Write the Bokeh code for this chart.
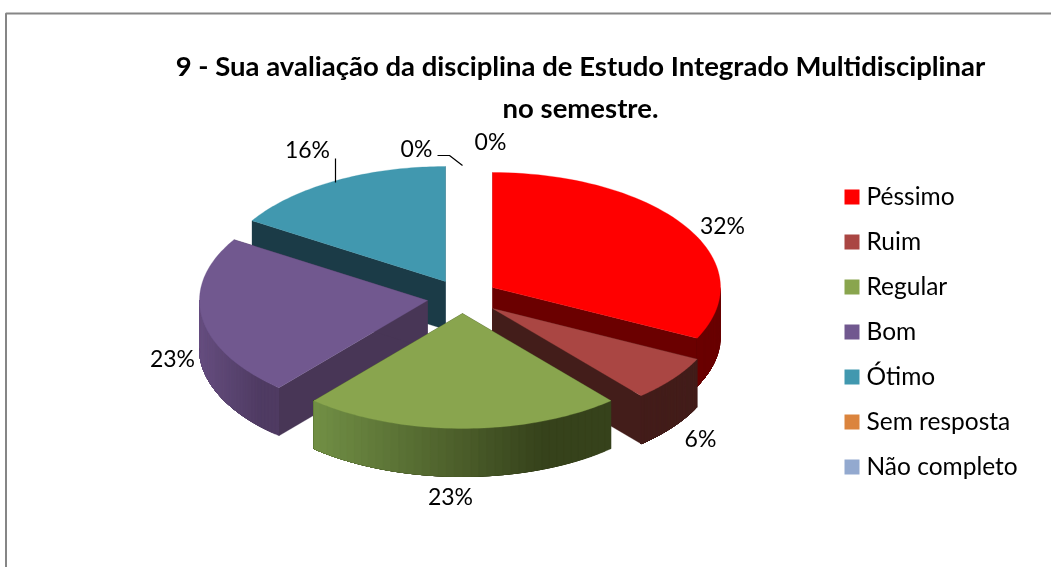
import math
from bokeh.plotting import figure
from bokeh.models import Range1d, ColumnDataSource
from bokeh.core.properties import value
from bokeh.embed import file_html
from bokeh.resources import INLINE

title_lines = ["9 - Sua avaliação da disciplina de Estudo Integrado Multidisciplinar", "no semestre."]
categories = ["Péssimo", "Ruim", "Regular", "Bom", "Ótimo", "Sem resposta", "Não completo"]
counts = [10, 2, 7, 7, 5, 0, 0]
colors = ["#FF0000", "#AA4643", "#89A54E", "#71588F", "#4198AF", "#DB843D", "#93A9CF"]

# style / geometry
W, H = 1051, 567
RX, RY, DEPTH = 228, 115, 48
apex = [(492, 287), (492, 308), (462, 313), (427, 300), (445, 281)]
cut_color = ["#6B0000", "#431D1A", "#37421C", "#483656", "#1B3B47"]
side_left = ["#6B0000", "#431D1A", "#718F45", "#664E80", "#1B3B47"]
side_right = ["#6B0000", "#431D1A", "#36421B", "#4F3B62", "#1B3B47"]
draw_order = [4, 0, 1, 3, 2]
label_pos = [(722, 224), (700, 437), (450, 495), (172, 357), (307, 148), (416, 147), (490, 140)]
FONT = "Lato"

total = sum(counts)
edges = [0.0]
for c in counts:
    edges.append(edges[-1] + 360.0 * c / total)


def pt(i, deg, dz=0.0):
    a = math.radians(deg)
    return apex[i][0] + RX * math.sin(a), apex[i][1] - RY * math.cos(a) + dz


def arc(i, a0, a1, n=60):
    return [pt(i, a0 + (a1 - a0) * k / n) for k in range(n + 1)]


def mix(c0, c1, t):
    p = [int(c0[j:j + 2], 16) for j in (1, 3, 5)]
    q = [int(c1[j:j + 2], 16) for j in (1, 3, 5)]
    return "#%02x%02x%02x" % tuple(round(p[k] + (q[k] - p[k]) * t) for k in range(3))


xs, ys, fills = [], [], []


def add(poly, col):
    xs.append([a for a, _ in poly])
    ys.append([b for _, b in poly])
    fills.append(col)


for i in draw_order:
    a0, a1 = edges[i], edges[i + 1]
    # cut walls that face the viewer
    for ang in (a0, a1):
        ox, oy = pt(i, ang)
        ax, ay = apex[i]
        add([(ax, ay), (ox, oy), (ox, oy + DEPTH), (ax, ay + DEPTH)], cut_color[i])
    # outer rim (front half only): shaded strips, each running on to the slice's left end
    lo, hi = max(a0, 90.0), min(a1, 270.0)
    if hi > lo:
        n = 40
        x_l = pt(i, hi)[0]
        x_r = pt(i, lo)[0]
        for k in range(n):
            s0 = lo + (hi - lo) * k / n
            s1 = lo + (hi - lo) * (k + 1) / n
            m = (s0 + s1) / 2
            t = min(1.0, (pt(i, m)[0] - x_l) / max(x_r - x_l, 1) * 1.3)
            upper = arc(i, s0, hi, 30)
            lower = [(q[0], q[1] + DEPTH) for q in reversed(upper)]
            # painted from right to left: every strip is overpainted by the next
            add(upper + lower, mix(side_left[i], side_right[i], t))
    # top face
    add([apex[i]] + arc(i, a0, a1), colors[i])

p = figure(width=W, height=H, x_range=Range1d(0, W), y_range=Range1d(H, 0),
           output_backend="svg", toolbar_location=None, min_border=0,
           x_axis_type=None, y_axis_type=None,
           background_fill_color="white", border_fill_color="white",
           outline_line_color=None, styles={"position": "fixed", "left": "0px", "top": "0px"})
p.grid.visible = False

# chart frame (right and bottom edges fall outside the picture)
p.line([5.5, 5.5, 1051], [567, 13, 13], line_color="#868686", line_width=2)

p.patches("xs", "ys", source=ColumnDataSource(dict(xs=xs, ys=ys, fill=fills)),
          fill_color="fill", line_color="fill", line_width=0.3)

# leader lines
p.line([335, 335], [158, 182], line_color="black", line_width=1.2)
p.line([437, 449, 462], [155, 155, 165], line_color="black", line_width=1.2)

# value labels
p.text([q[0] for q in label_pos], [q[1] for q in label_pos],
       text=[f"{round(100 * c / total)}%" for c in counts],
       text_font=value(FONT), text_font_size="23px", text_color="black",
       text_align="center", text_baseline="middle")

# title
p.text([580, 580], [65, 107], text=title_lines, text_font=value(FONT), text_font_style="bold",
       text_font_size="27.5px", text_color="black", text_align="center", text_baseline="middle")

# legend
ly = [196.5 + 45 * k for k in range(len(categories))]
p.rect([851.5] * len(categories), ly, width=15, height=15, fill_color=colors, line_color=None)
p.text([866] * len(categories), [y - 1.5 for y in ly], text=categories, text_font=value(FONT), text_font_size="24.5px",
       text_color="black", text_align="left", text_baseline="middle")

open("out.html", "w").write(file_html(p, INLINE))
